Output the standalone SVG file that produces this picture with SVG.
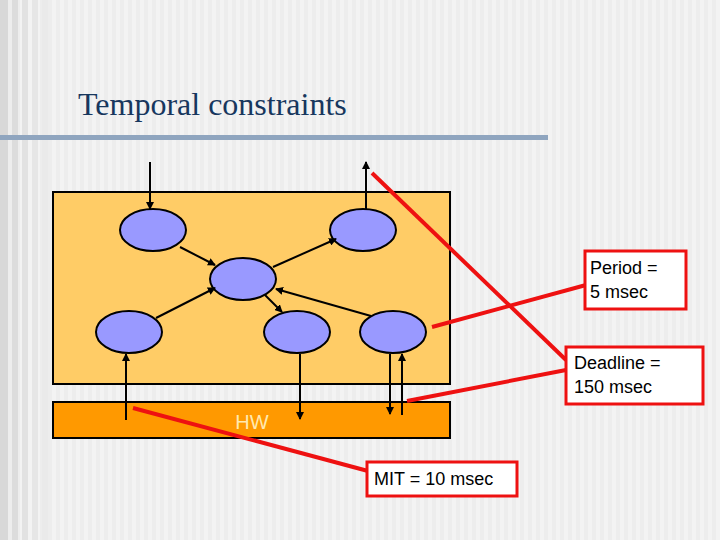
<svg xmlns="http://www.w3.org/2000/svg" width="720" height="540" viewBox="0 0 720 540">
<defs>
<pattern id="st" width="8" height="540" patternUnits="userSpaceOnUse"><rect width="8" height="540" fill="#f3f3f3"/><rect width="4" height="540" fill="#ededed"/></pattern>
<marker id="ah" markerWidth="8" markerHeight="8" refX="7" refY="4" orient="auto" markerUnits="userSpaceOnUse"><path d="M0,0 L8,4 L0,8 Z" fill="#000"/></marker>
</defs>
<style>
.n{fill:#9999ff;stroke:#000;stroke-width:2}
.c{stroke:#000;stroke-width:2;fill:none;marker-end:url(#ah)}
.r{stroke:#ee1111;stroke-width:4;fill:none}
.rb{fill:#fff;stroke:#ee1111;stroke-width:3}
.t{font-family:"Liberation Sans",Arial,sans-serif;font-size:18px;fill:#000}
</style>
<rect width="720" height="540" fill="url(#st)"/>
<rect x="0" y="0" width="8" height="540" fill="#d8d8d8"/>
<rect x="12" y="0" width="6" height="540" fill="#dcdcdc"/>
<rect x="22" y="0" width="6" height="540" fill="#e2e2e2"/>
<rect x="32" y="0" width="6" height="540" fill="#e6e6e6"/>
<rect x="42" y="0" width="6" height="540" fill="#eaeaea"/>
<text x="78" y="115" font-family="Liberation Serif,serif" font-size="32" fill="#17375e">Temporal constraints</text>
<rect x="0" y="135" width="548" height="5" fill="#8fa5bf"/>
<g id="system"><rect x="53" y="192" width="397" height="192" fill="#ffcc66" stroke="#000" stroke-width="2"/></g>
<g id="hw"><rect x="53" y="402" width="397" height="36" fill="#ff9900" stroke="#000" stroke-width="2"/><text x="252" y="429" text-anchor="middle" font-family="Liberation Sans,sans-serif" font-size="20" fill="#ffe9b0">HW</text></g>
<g id="nA"><ellipse class="n" cx="153" cy="230" rx="33" ry="21"/></g>
<g id="nB"><ellipse class="n" cx="363" cy="230" rx="33" ry="21"/></g>
<g id="nC"><ellipse class="n" cx="243" cy="279" rx="33" ry="21"/></g>
<g id="nD"><ellipse class="n" cx="129" cy="332" rx="33" ry="21"/></g>
<g id="nE"><ellipse class="n" cx="297" cy="332" rx="33" ry="21"/></g>
<g id="nF"><ellipse class="n" cx="393" cy="332" rx="33" ry="21"/></g>
<g id="connectors">
<line class="c" x1="150" y1="162" x2="150" y2="209"/>
<line class="c" x1="366" y1="209" x2="366" y2="162"/>
<line class="c" x1="180" y1="247" x2="215" y2="265"/>
<line class="c" x1="273" y1="267" x2="336" y2="239"/>
<line class="c" x1="156" y1="318" x2="215" y2="288"/>
<line class="c" x1="265" y1="295" x2="282" y2="312"/>
<line class="c" x1="371" y1="316" x2="276" y2="289"/>
<line class="c" x1="126" y1="420" x2="126" y2="354"/>
<line class="c" x1="300" y1="354" x2="300" y2="419"/>
<line class="c" x1="390" y1="354" x2="390" y2="414"/>
<line class="c" x1="402" y1="415" x2="402" y2="354"/>
</g>
<g id="callouts">
<line class="r" x1="372" y1="173" x2="566" y2="360"/>
<line class="r" x1="432" y1="327" x2="586" y2="285"/>
<line class="r" x1="407" y1="401" x2="566" y2="370"/>
<line class="r" x1="133" y1="408" x2="368" y2="471"/>
</g>
<g id="period"><rect class="rb" x="585" y="251" width="101" height="58"/><text class="t" x="590" y="274">Period =</text><text class="t" x="590" y="298">5 msec</text></g>
<g id="deadline"><rect class="rb" x="566" y="347" width="137" height="57"/><text class="t" x="574" y="369">Deadline =</text><text class="t" x="574" y="393">150 msec</text></g>
<g id="mit"><rect class="rb" x="367" y="462" width="150" height="34"/><text class="t" x="374" y="485">MIT = 10 msec</text></g>
</svg>
